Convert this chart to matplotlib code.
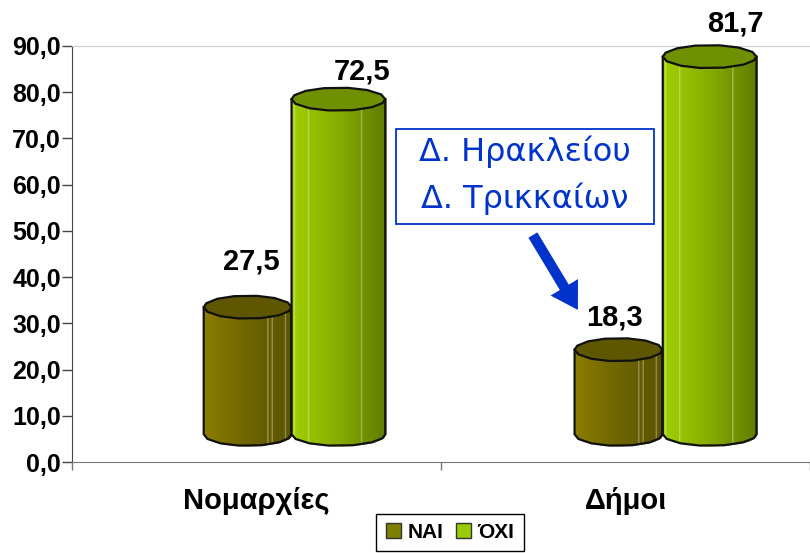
import numpy as np
import matplotlib
matplotlib.use("Agg")
import matplotlib.pyplot as plt
from matplotlib.colors import to_rgb
from matplotlib.patches import Patch, Polygon, Rectangle

# Data
categories = ["Νομαρχίες", "Δήμοι"]
nai_values = [27.5, 18.3]
oxi_values = [72.5, 81.7]
series_names = ["ΝΑΙ", "ΌΧΙ"]
y_ticks = [0, 10, 20, 30, 40, 50, 60, 70, 80, 90]
note_lines = ["Δ. Ηρακλείου", "Δ. Τρικκαίων"]

plt.rcParams["font.family"] = ["Liberation Sans", "DejaVu Sans"]

W, H = 810, 553
fig = plt.figure(figsize=(W / 100, H / 100), dpi=100)
ax = fig.add_axes([72 / W, 1 - 462 / H, 738 / W, 416 / H])
ax.set_xlim(-0.5, 1.5)
ax.set_ylim(0, 90)

# The fake 3D look: cylinders float above the axis by a fixed depth
DEPTH = 6.0
RY = 2.5
EDGE = "#111111"

# uneven angles make the ellipses look low-poly like the original
angles = np.radians([0, 24, 52, 78, 108, 134, 160, 180, 204, 232, 258, 288, 316, 340, 360])


def cylinder(xc, half_w, value, cols, top_col, streaks, z):
    top = value + DEPTH
    left, mid, right = [np.array(to_rgb(c)) for c in cols]
    edges = np.linspace(xc - half_w, xc + half_w, 61)
    for i in range(60):
        x0, x1 = edges[i], edges[i + 1]
        t = (i + 0.5) / 60
        if t < 0.5:
            col = left + (mid - left) * t / 0.5
        else:
            col = mid + (right - mid) * (t - 0.5) / 0.5
        for s in streaks:
            if abs(t - s) < 0.008:
                col = col + (1 - col) * 0.3
        y0 = DEPTH - RY * np.sqrt(max(0, 1 - ((x0 - xc) / half_w) ** 2))
        y1 = DEPTH - RY * np.sqrt(max(0, 1 - ((x1 - xc) / half_w) ** 2))
        ax.fill_between([x0, x1 + 0.002], [y0, y1], [top, top], color=col, lw=0, zorder=z,
                        antialiased=False)

    # outline of the body
    th = angles[angles >= np.pi]
    bx = xc + half_w * np.cos(th)
    by = DEPTH + RY * np.sin(th)
    ox = np.r_[xc - half_w, bx, xc + half_w]
    oy = np.r_[top, by, top]
    ax.plot(ox, oy, color=EDGE, lw=1.6, zorder=z + 0.1, solid_joinstyle="round")

    # top ellipse
    ex = xc + half_w * np.cos(angles)
    ey = top + RY * np.sin(angles)
    ax.add_patch(Polygon(np.c_[ex, ey], closed=True, facecolor=top_col, edgecolor=EDGE,
                         lw=1.6, zorder=z + 0.2, clip_on=False))


NAI_COLS = ["#8a7d00", "#6e6400", "#5a5200"]
OXI_COLS = ["#a0d000", "#86ab00", "#5f7c00"]
NAI_TOP = "#5f5700"
OXI_TOP = "#6f9000"
NAI_STREAKS = [0.72, 0.78, 0.92]
OXI_STREAKS = [0.02, 0.17, 0.74, 0.8, 0.9]

nai_x = [-0.024, 0.981]
oxi_x = [0.222, 1.228]
for i in range(2):
    cylinder(nai_x[i], 0.119, nai_values[i], NAI_COLS, NAI_TOP, NAI_STREAKS, 3)
    cylinder(oxi_x[i], 0.127, oxi_values[i], OXI_COLS, OXI_TOP, OXI_STREAKS, 4)

# Value labels
label_x = [-0.015, 0.286, 0.969, 1.297]
label_y = [43.3, 84.4, 31.2, 94.8]
label_vals = [nai_values[0], oxi_values[0], nai_values[1], oxi_values[1]]
for x, y, v in zip(label_x, label_y, label_vals):
    ax.text(x, y, f"{v:.1f}".replace(".", ","), ha="center", va="center", fontsize=21,
            fontweight="bold", color="black", zorder=6, clip_on=False)

# Axes
ax.set_yticks(y_ticks)
ax.set_yticklabels([f"{v:.1f}".replace(".", ",") for v in y_ticks], fontsize=18, fontweight="bold")
ax.set_xticks([-0.5, 0.5, 1.5])
ax.set_xticklabels([])
ax.tick_params(axis="y", length=7, width=1, color="#444444", pad=1)
ax.tick_params(axis="x", length=6, width=1, color="#777777")
ax.spines["left"].set_color("#444444")
ax.spines["bottom"].set_color("#777777")
ax.spines["right"].set_visible(False)
ax.spines["top"].set_color("#cccccc")
ax.patch.set_alpha(0)

for i, name in enumerate(categories):
    ax.annotate(name, (i, 0), xytext=(0, -28), textcoords="offset points", ha="center", va="center",
                fontsize=21, fontweight="bold", annotation_clip=False)

# Callout box and arrow
BLUE = "#0033cc"
ax.add_patch(Rectangle((0.378, 51.5), 0.699, 20.55, facecolor="white", edgecolor=BLUE, lw=1.3, zorder=7))
ax.text(0.7276, 67.1, note_lines[0], ha="center", va="center", fontsize=23, color=BLUE,
        family="DejaVu Sans", zorder=8)
ax.text(0.7276, 56.9, note_lines[1], ha="center", va="center", fontsize=23, color=BLUE,
        family="DejaVu Sans", zorder=8)
ax.annotate("", xy=(0.871, 32.9), xytext=(0.749, 49.1),
            arrowprops=dict(arrowstyle="simple,head_length=1.9,head_width=2.3,tail_width=0.75",
                            color=BLUE, lw=0, shrinkA=0, shrinkB=0), zorder=8)

# Legend
handles = [Patch(facecolor="#808000", edgecolor="#333333", lw=1), Patch(facecolor="#99cc00", edgecolor="#333333", lw=1)]
leg = fig.legend(handles, series_names, ncol=2, loc="center", bbox_to_anchor=(450 / W, 1 - 532.5 / H),
                 fancybox=False, framealpha=1, edgecolor="black", handlelength=0.75, handleheight=0.75,
                 handletextpad=0.3, columnspacing=0.6, borderpad=0.45,
                 prop={"size": 15, "weight": "bold"})
leg.get_frame().set_linewidth(1)

fig.savefig("out.png", dpi=100)
